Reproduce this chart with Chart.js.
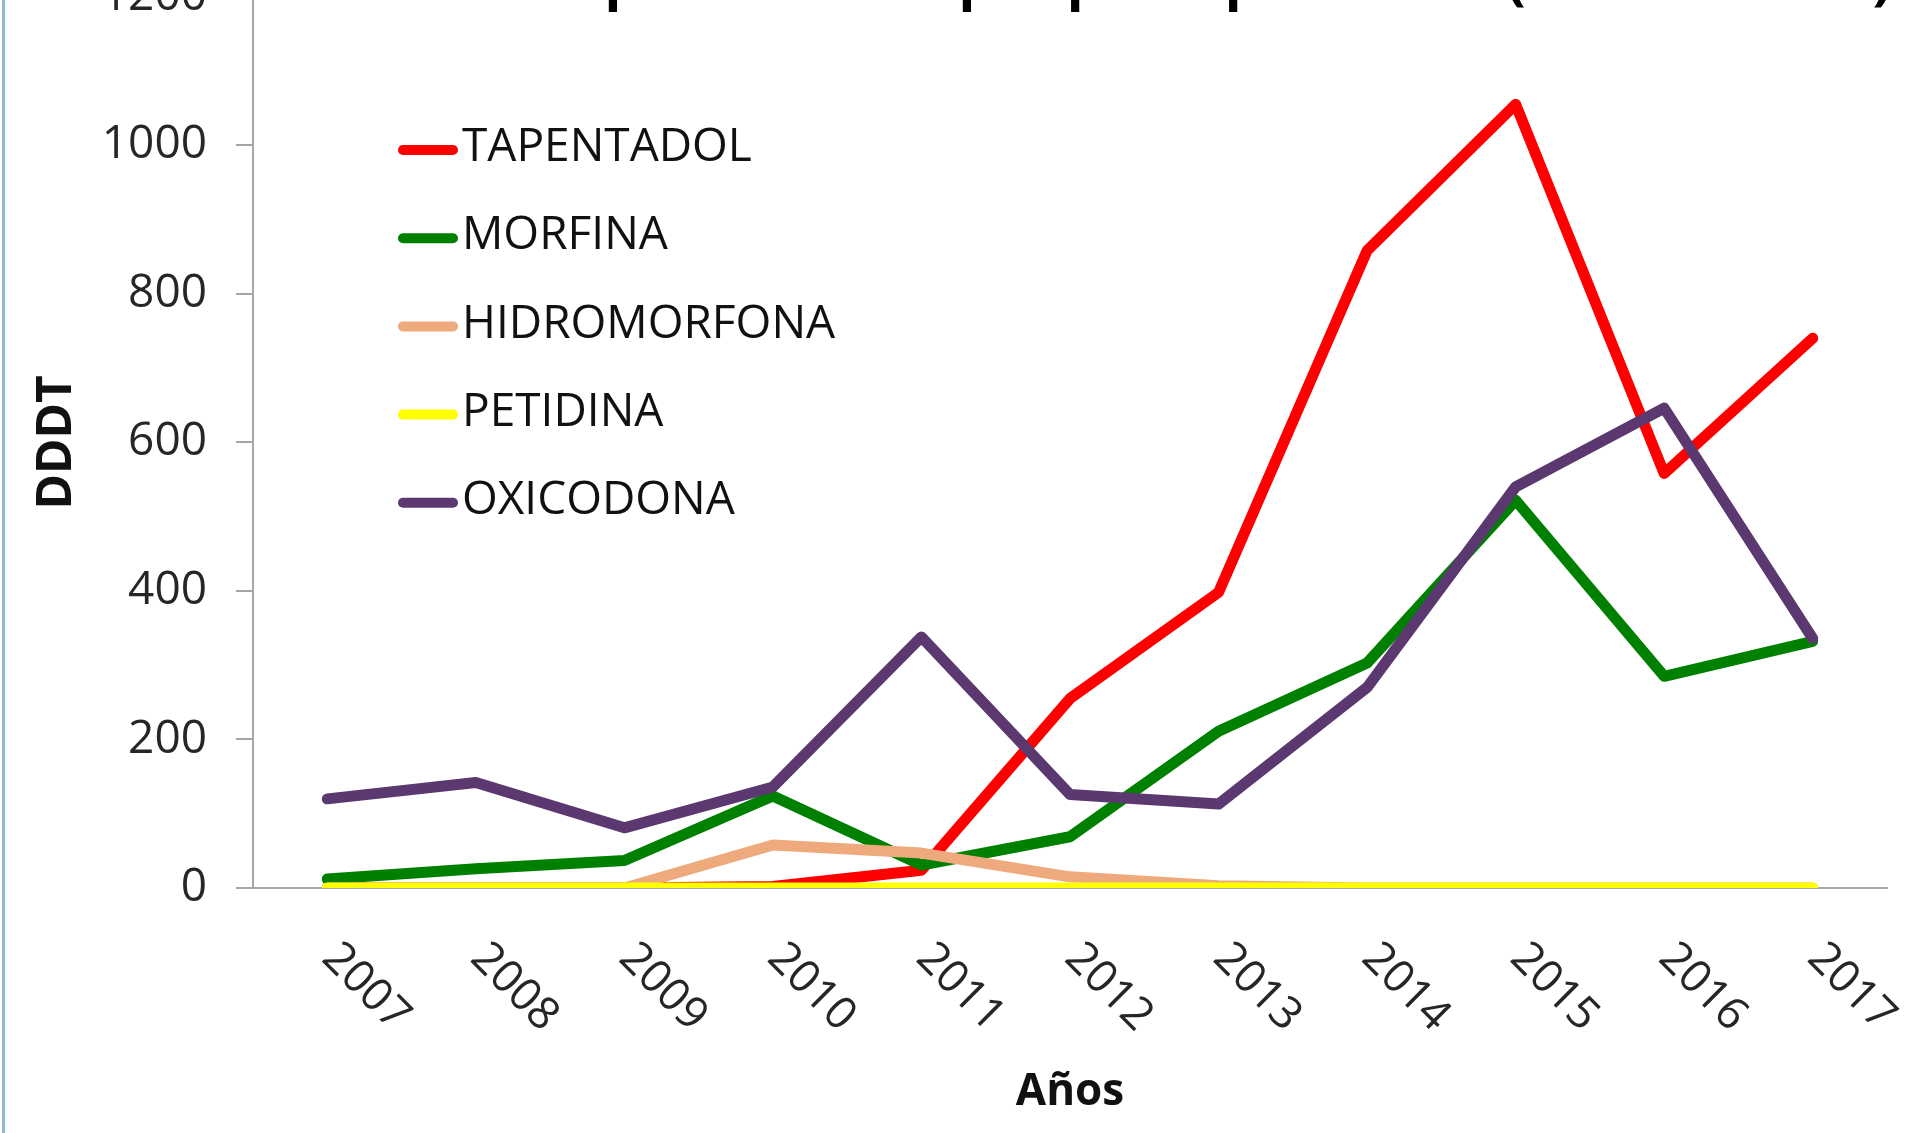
<!DOCTYPE html>
<html>
<head>
<meta charset="utf-8">
<script src="https://cdn.jsdelivr.net/npm/chart.js@4.4.1/dist/chart.umd.min.js"></script>
<style>
  html, body { margin: 0; padding: 0; background: #fff; overflow: hidden; }
  body { width: 1932px; height: 1133px; position: relative; }
  #wrap { position: absolute; left: 0; top: -60px; width: 1932px; height: 1193px; }
  #edge { position: absolute; left: 2px; top: 0; width: 3px; height: 1133px; background: #8dbbd0; }
</style>
</head>
<body>
<div id="wrap"><canvas id="chart" width="1932" height="1193"></canvas></div>
<div id="edge"></div>
<script>
const years = ["2007", "2008", "2009", "2010", "2011", "2012", "2013", "2014", "2015", "2016", "2017"];
const yTicks = [0, 200, 400, 600, 800, 1000, 1200];

const tapentadol   = [0, 0, 0, 2, 24, 255, 398, 858, 1055, 558, 740];
const morfina      = [12, 26, 37, 124, 31, 69, 211, 303, 522, 285, 332];
const hidromorfona = [0, 0, 0, 58, 47, 15, 3, 0, 0, 0, 0];
const petidina     = [0, 0, 0, 0, 0, 0, 0, 0, 0, 0, 0];
const oxicodona    = [120, 142, 81, 136, 338, 126, 113, 270, 540, 646, 336];

const chartTitle = "DDDT dispensaciones por principio activo (en consultas)";

const ctx = document.getElementById("chart").getContext("2d");

// draws the rotated year labels, the in-plot legend and the (cut off) title
const extras = {
  id: "extras",
  afterDraw(chart) {
    const c = chart.ctx;
    const area = chart.chartArea;
    const x = chart.scales.x;
    c.save();

    c.font = '45px "Open Sans"';
    c.fillStyle = "#262626";
    c.textAlign = "left";
    c.textBaseline = "middle";
    years.forEach((yr, i) => {
      c.save();
      c.translate(x.getPixelForTick(i) + 2, area.bottom + 63);
      c.rotate(Math.PI / 4);
      c.fillText(yr, 0, 0);
      c.restore();
    });

    // legend
    c.font = '46px "Open Sans"';
    c.lineCap = "round";
    c.lineWidth = 10;
    chart.data.datasets.forEach((ds, i) => {
      const y = 208 + i * 88.2;
      c.strokeStyle = ds.borderColor;
      c.beginPath();
      c.moveTo(403, y + 2);
      c.lineTo(453, y + 2);
      c.stroke();
      c.fillStyle = "#111";
      c.fillText(ds.label, 462, y);
    });

    // title, mostly above the visible page
    c.font = 'bold 100px "Open Sans"';
    const w = c.measureText(chartTitle).width;
    c.font = 'bold ' + (100 * 1534 / w).toFixed(1) + 'px "Open Sans"';
    c.textAlign = "center";
    c.textBaseline = "alphabetic";
    c.fillStyle = "#000";
    c.fillText(chartTitle, 1124, 59);

    c.restore();
  }
};

const lineStyle = { borderWidth: 11, pointRadius: 0, pointHoverRadius: 0, fill: false, tension: 0,
  borderCapStyle: "round", borderJoinStyle: "round" };

new Chart(ctx, {
  type: "line",
  data: {
    labels: years,
    datasets: [
      { label: "TAPENTADOL", data: tapentadol, borderColor: "#ff0000", order: 5, ...lineStyle },
      { label: "MORFINA", data: morfina, borderColor: "#008000", order: 4, ...lineStyle },
      { label: "HIDROMORFONA", data: hidromorfona, borderColor: "#eeaa7c", order: 3, ...lineStyle },
      { label: "PETIDINA", data: petidina, borderColor: "#ffff00", order: 2, ...lineStyle },
      { label: "OXICODONA", data: oxicodona, borderColor: "#5b3870", order: 1, ...lineStyle }
    ]
  },
  options: {
    responsive: false,
    animation: false,
    devicePixelRatio: 1,
    layout: { padding: { top: 52, bottom: 14, left: 25, right: 45 } },
    plugins: {
      legend: { display: false },
      tooltip: { enabled: false }
    },
    scales: {
      x: {
        offset: true,
        grid: { display: false },
        border: { color: "#a6a6a6", width: 2 },
        ticks: { display: false },
        title: { display: true, text: "Años", color: "#111",
          font: { family: "Open Sans", size: 44, weight: "bold" }, padding: { top: 4, bottom: 0 } },
        afterFit(scale) { scale.height = 231; }
      },
      y: {
        min: yTicks[0],
        max: yTicks[yTicks.length - 1],
        afterBuildTicks(scale) { scale.ticks = yTicks.map(v => ({ value: v })); },
        grid: { drawOnChartArea: false, drawTicks: true, tickLength: 17, color: "#a6a6a6", lineWidth: 2 },
        border: { color: "#a6a6a6", width: 2 },
        ticks: { color: "#262626", padding: 29, font: { family: "Open Sans", size: 46 },
          callback: v => String(v) },
        title: { display: true, text: "DDDT", color: "#111",
          font: { family: "Open Sans", size: 48, weight: "bold" }, padding: { top: 4, bottom: 16 } },
        afterFit(scale) { scale.width = 228; }
      }
    }
  },
  plugins: [extras]
});
</script>
</body>
</html>
